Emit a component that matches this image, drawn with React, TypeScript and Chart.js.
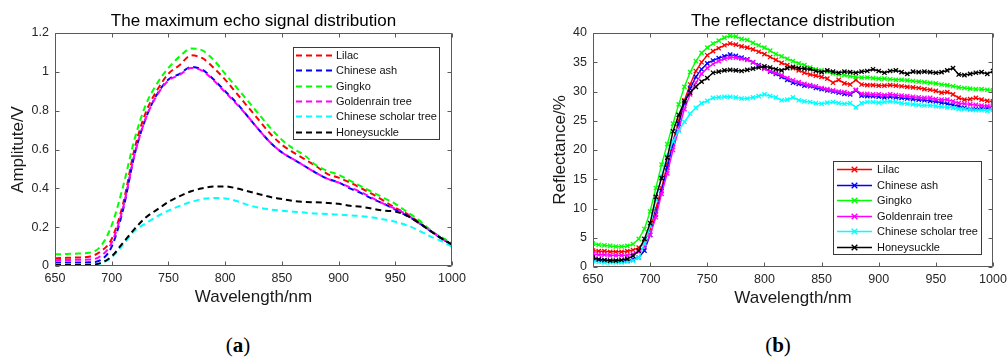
import React, { useEffect, useRef } from "react";
import { Chart, registerables } from "chart.js";

Chart.register(...registerables);

// ---------- Panel (a): maximum echo signal (10 nm steps) ----------
const WL_A = [650, 660, 670, 680, 690, 700, 710, 720, 730, 740, 750, 760, 770, 780, 790, 800, 810, 820, 830, 840, 850, 860, 870, 880, 890, 900, 910, 920, 930, 940, 950, 960, 970, 980, 990, 1000];
const LILAC_A = [0.040, 0.042, 0.044, 0.048, 0.074, 0.14, 0.32, 0.60, 0.79, 0.905, 0.99, 1.035, 1.085, 1.07, 1.02, 0.96, 0.89, 0.82, 0.75, 0.68, 0.625, 0.585, 0.55, 0.515, 0.475, 0.455, 0.43, 0.40, 0.37, 0.335, 0.30, 0.27, 0.23, 0.185, 0.145, 0.11];
const ASH_A = [0.018, 0.018, 0.018, 0.019, 0.03, 0.10, 0.29, 0.57, 0.76, 0.885, 0.96, 0.99, 1.025, 1.01, 0.96, 0.90, 0.84, 0.77, 0.70, 0.635, 0.585, 0.55, 0.515, 0.48, 0.45, 0.43, 0.40, 0.375, 0.345, 0.32, 0.29, 0.26, 0.225, 0.185, 0.145, 0.11];
const GINGKO_A = [0.060, 0.062, 0.064, 0.068, 0.10, 0.21, 0.41, 0.65, 0.83, 0.94, 1.02, 1.08, 1.12, 1.11, 1.06, 0.99, 0.92, 0.85, 0.78, 0.71, 0.65, 0.605, 0.57, 0.52, 0.49, 0.47, 0.44, 0.41, 0.38, 0.35, 0.32, 0.28, 0.24, 0.19, 0.15, 0.12];
const GOLDEN_A = [0.030, 0.031, 0.032, 0.033, 0.05, 0.12, 0.30, 0.57, 0.76, 0.88, 0.955, 0.985, 1.02, 1.005, 0.955, 0.895, 0.835, 0.77, 0.70, 0.635, 0.585, 0.55, 0.515, 0.48, 0.45, 0.43, 0.405, 0.38, 0.35, 0.32, 0.295, 0.265, 0.225, 0.185, 0.145, 0.11];
const SCHOLAR_A = [0.003, 0.003, 0.003, 0.004, 0.012, 0.045, 0.11, 0.18, 0.22, 0.255, 0.285, 0.31, 0.33, 0.345, 0.35, 0.348, 0.335, 0.315, 0.30, 0.29, 0.285, 0.28, 0.275, 0.27, 0.268, 0.265, 0.26, 0.257, 0.25, 0.24, 0.228, 0.21, 0.185, 0.155, 0.13, 0.10];
const HONEY_A = [0.005, 0.005, 0.005, 0.006, 0.015, 0.05, 0.12, 0.19, 0.25, 0.29, 0.33, 0.36, 0.385, 0.40, 0.41, 0.41, 0.40, 0.385, 0.37, 0.355, 0.345, 0.335, 0.33, 0.328, 0.325, 0.32, 0.31, 0.305, 0.295, 0.285, 0.28, 0.26, 0.225, 0.185, 0.145, 0.11];

// ---------- Panel (b): reflectance (5 nm steps) ----------
const WL_B = [650, 655, 660, 665, 670, 675, 680, 685, 690, 695, 700, 705, 710, 715, 720, 725, 730, 735, 740, 745, 750, 755, 760, 765, 770, 775, 780, 785, 790, 795, 800, 805, 810, 815, 820, 825, 830, 835, 840, 845, 850, 855, 860, 865, 870, 875, 880, 885, 890, 895, 900, 905, 910, 915, 920, 925, 930, 935, 940, 945, 950, 955, 960, 965, 970, 975, 980, 985, 990, 995, 1000];
const LILAC_B = [2.8, 2.7, 2.7, 2.6, 2.6, 2.6, 2.7, 2.9, 3.3, 4.3, 6.5, 10.0, 13.5, 17.5, 21.5, 25.0, 28.5, 31.2, 33.5, 35.0, 36.2, 36.9, 37.4, 37.9, 38.2, 38.0, 37.7, 37.5, 37.2, 36.8, 36.4, 35.9, 35.4, 34.9, 34.5, 34.0, 33.6, 33.2, 32.9, 32.7, 32.5, 32.2, 31.5, 32.0, 31.4, 31.2, 32.0, 31.2, 31.1, 31.1, 31.0, 31.0, 31.1, 31.0, 30.9, 30.8, 30.7, 30.6, 30.4, 30.3, 30.1, 29.8, 29.9, 29.5, 28.9, 28.6, 28.7, 28.9, 28.6, 28.4, 28.3];
const ASH_B = [1.3, 1.2, 1.1, 1.0, 1.0, 1.0, 1.1, 1.3, 1.6, 2.8, 5.5, 9.0, 13.0, 17.0, 21.0, 24.5, 28.0, 30.5, 32.5, 33.8, 34.8, 35.3, 35.7, 36.0, 36.3, 36.1, 35.8, 35.5, 35.0, 34.5, 34.0, 33.4, 33.0, 32.5, 32.0, 31.5, 31.3, 31.0, 30.9, 30.6, 30.4, 30.2, 30.0, 29.8, 29.6, 29.5, 30.2, 29.3, 29.2, 29.2, 29.1, 29.0, 29.1, 29.0, 28.9, 28.8, 28.7, 28.6, 28.5, 28.4, 28.3, 28.1, 27.9, 27.7, 27.5, 27.2, 27.0, 27.0, 27.1, 27.2, 27.2];
const GINGKO_B = [4.0, 3.8, 3.7, 3.6, 3.5, 3.5, 3.6, 3.9, 4.8, 6.5, 9.5, 13.5, 17.5, 21.0, 24.5, 27.8, 30.8, 33.3, 35.2, 36.6, 37.5, 38.2, 38.7, 39.2, 39.5, 39.4, 39.0, 38.8, 38.3, 37.9, 37.5, 37.0, 36.4, 36.0, 35.6, 35.2, 34.8, 34.5, 34.1, 33.8, 33.6, 33.4, 33.1, 32.9, 32.8, 32.6, 32.5, 32.4, 32.4, 32.3, 32.2, 32.2, 32.1, 32.0, 32.0, 31.9, 31.8, 31.7, 31.6, 31.5, 31.4, 31.2, 31.1, 30.9, 30.7, 30.6, 30.5, 30.4, 30.4, 30.3, 30.2];
const GOLDEN_B = [2.2, 2.1, 2.1, 2.0, 2.0, 2.0, 2.0, 2.2, 2.6, 3.5, 5.5, 8.5, 12.5, 16.0, 20.0, 23.5, 27.0, 29.5, 31.5, 33.0, 34.0, 34.7, 35.2, 35.6, 35.8, 35.8, 35.6, 35.4, 35.0, 34.4, 33.9, 33.5, 33.2, 32.8, 32.3, 31.9, 31.6, 31.3, 31.1, 30.9, 30.6, 30.4, 30.2, 30.0, 29.9, 29.7, 30.3, 29.6, 29.6, 29.5, 29.5, 29.4, 29.5, 29.4, 29.3, 29.2, 29.1, 29.0, 28.9, 28.9, 28.7, 28.6, 28.6, 28.3, 28.0, 27.9, 27.8, 27.7, 27.6, 27.5, 27.5];
const SCHOLAR_B = [1.0, 0.9, 0.8, 0.8, 0.8, 0.8, 0.9, 1.1, 1.6, 4.0, 7.0, 11.5, 15.5, 19.0, 21.5, 23.3, 24.8, 26.2, 27.2, 28.0, 28.4, 28.9, 29.0, 29.1, 29.1, 29.0, 28.8, 28.8, 29.0, 29.2, 29.5, 29.2, 29.0, 28.5, 28.6, 29.0, 28.5, 28.3, 28.2, 28.0, 27.9, 28.1, 28.2, 28.0, 27.9, 28.0, 27.3, 28.0, 28.2, 28.2, 28.1, 28.2, 28.3, 28.2, 28.0, 27.9, 27.8, 27.7, 27.6, 27.6, 27.5, 27.4, 27.3, 27.2, 27.0, 27.0, 26.9, 26.8, 26.8, 26.7, 26.9];
const HONEY_B = [1.6, 1.3, 1.2, 1.1, 1.1, 1.2, 1.4, 1.9, 2.8, 4.8, 7.5, 12.0, 15.2, 18.7, 23.2, 26.0, 28.3, 29.8, 30.8, 31.7, 32.3, 33.2, 33.4, 33.6, 33.7, 33.6, 33.5, 33.7, 33.9, 34.1, 34.3, 34.1, 33.8, 33.6, 34.0, 34.2, 34.0, 33.9, 33.8, 33.5, 33.3, 33.6, 33.4, 33.2, 33.4, 33.3, 33.2, 33.4, 33.5, 33.8, 33.5, 33.2, 33.5, 33.6, 33.3, 33.0, 33.4, 33.3, 33.4, 33.3, 33.2, 33.3, 33.6, 34.0, 32.9, 32.8, 33.0, 33.2, 33.3, 33.0, 33.5];

const SERIES_NAMES = ["Lilac", "Chinese ash", "Gingko", "Goldenrain tree", "Chinese scholar tree", "Honeysuckle"];
const SERIES_COLORS = ["#ff0000", "#0000ff", "#00ff00", "#ff00ff", "#00ffff", "#000000"];
const X_TICKS_MIN = 650;
const X_TICKS_MAX = 1000;
const TITLE_A = "The maximum echo signal distribution";
const TITLE_B = "The reflectance distribution";

const FONT = '"Liberation Sans", Arial, Helvetica, sans-serif';
const AXIS_COLOR = "#5a5a5a";
const TICK_TEXT = "#262626";

function titlePlugin(text: string) {
  return {
    id: "centeredTitle",
    afterDraw(chart: any) {
      const { ctx, chartArea } = chart;
      ctx.save();
      ctx.fillStyle = "#000";
      ctx.font = `17px ${FONT}`;
      ctx.textAlign = "center";
      ctx.textBaseline = "middle";
      ctx.fillText(text, (chartArea.left + chartArea.right) / 2, 21);
      ctx.restore();
    },
  };
}

function boxPlugin() {
  return {
    id: "matlabBox",
    afterDraw(chart: any) {
      const { ctx, chartArea, scales } = chart;
      const l = Math.round(chartArea.left) + 0.5;
      const r = Math.round(chartArea.right) - 0.5;
      const t = Math.round(chartArea.top) + 0.5;
      const b = Math.round(chartArea.bottom) - 0.5;
      ctx.save();
      ctx.strokeStyle = AXIS_COLOR;
      ctx.lineWidth = 1;
      ctx.beginPath();
      ctx.rect(l, t, r - l, b - t);
      const len = 4;
      scales.x.ticks.forEach((tk: any) => {
        const px = Math.round(scales.x.getPixelForValue(tk.value)) + 0.5;
        ctx.moveTo(px, b);
        ctx.lineTo(px, b - len);
        ctx.moveTo(px, t);
        ctx.lineTo(px, t + len);
      });
      scales.y.ticks.forEach((tk: any) => {
        const py = Math.round(scales.y.getPixelForValue(tk.value)) + 0.5;
        ctx.moveTo(l, py);
        ctx.lineTo(l + len, py);
        ctx.moveTo(r, py);
        ctx.lineTo(r - len, py);
      });
      ctx.stroke();
      ctx.restore();
    },
  };
}

type LegendCfg = {
  box: [number, number, number, number];
  firstRow: number;
  rowGap: number;
  lineX: [number, number];
  textX: number;
  dashed: boolean;
};

function legendPlugin(cfg: LegendCfg) {
  return {
    id: "matlabLegend",
    afterDraw(chart: any) {
      const { ctx } = chart;
      const [x0, y0, x1, y1] = cfg.box;
      ctx.save();
      ctx.fillStyle = "#ffffff";
      ctx.fillRect(x0, y0, x1 - x0, y1 - y0);
      ctx.strokeStyle = "#3a3a3a";
      ctx.lineWidth = 1;
      ctx.strokeRect(x0 + 0.5, y0 + 0.5, x1 - x0, y1 - y0);
      chart.data.datasets.forEach((ds: any, i: number) => {
        const y = Math.round(cfg.firstRow + i * cfg.rowGap) + 0.5;
        ctx.strokeStyle = ds.borderColor;
        ctx.lineWidth = cfg.dashed ? 2 : 1.5;
        ctx.setLineDash(cfg.dashed ? [6, 4] : []);
        ctx.beginPath();
        ctx.moveTo(cfg.lineX[0], y);
        ctx.lineTo(cfg.lineX[1], y);
        ctx.stroke();
        ctx.setLineDash([]);
        if (!cfg.dashed) {
          const cx = (cfg.lineX[0] + cfg.lineX[1]) / 2;
          const s = 2.8;
          ctx.lineWidth = 1.4;
          ctx.beginPath();
          ctx.moveTo(cx - s, y - s);
          ctx.lineTo(cx + s, y + s);
          ctx.moveTo(cx + s, y - s);
          ctx.lineTo(cx - s, y + s);
          ctx.stroke();
        }
        ctx.fillStyle = "#111";
        ctx.font = `11px ${FONT}`;
        ctx.textBaseline = "middle";
        ctx.textAlign = "left";
        ctx.fillText(ds.label, cfg.textX, y);
      });
      ctx.restore();
    },
  };
}

function makeScales(opts: {
  yMin: number;
  yMax: number;
  yStep: number;
  yTitle: string;
  yWidth: number;
  xHeight: number;
  xTitlePadBottom: number;
}) {
  return {
    x: {
      type: "linear",
      min: X_TICKS_MIN,
      max: X_TICKS_MAX,
      grid: { display: false, drawTicks: false },
      border: { display: false },
      ticks: {
        stepSize: 50,
        autoSkip: false,
        maxRotation: 0,
        padding: 5,
        color: TICK_TEXT,
        font: { size: 12.5, family: FONT },
        callback: (v: any) => String(v),
      },
      title: {
        display: true,
        text: "Wavelength/nm",
        color: "#1a1a1a",
        font: { size: 17, family: FONT },
        padding: { top: 0, bottom: opts.xTitlePadBottom },
      },
      afterFit(scale: any) {
        scale.height = opts.xHeight;
        scale.paddingLeft = 0;
        scale.paddingRight = 0;
      },
    },
    y: {
      type: "linear",
      min: opts.yMin,
      max: opts.yMax,
      grid: { display: false, drawTicks: false },
      border: { display: false },
      ticks: {
        stepSize: opts.yStep,
        autoSkip: false,
        padding: 6,
        color: TICK_TEXT,
        font: { size: 12.5, family: FONT },
        callback: (v: any) => String(+Number(v).toFixed(2)),
      },
      title: {
        display: true,
        text: opts.yTitle,
        color: "#1a1a1a",
        font: { size: 17, family: FONT },
        padding: { top: 8, bottom: 0 },
      },
      afterFit(scale: any) {
        scale.width = opts.yWidth;
        scale.paddingTop = 0;
        scale.paddingBottom = 0;
      },
    },
  };
}

function buildDatasets(xs: number[], series: number[][], dashed: boolean) {
  return series.map((vals, i) => ({
    label: SERIES_NAMES[i],
    data: xs.map((x, j) => ({ x, y: vals[j] })),
    borderColor: SERIES_COLORS[i],
    backgroundColor: SERIES_COLORS[i],
    borderWidth: dashed ? 2 : 1.4,
    borderDash: dashed ? [6, 4] : [],
    pointStyle: "crossRot",
    pointRadius: dashed ? 0 : 3,
    pointBorderWidth: 1.3,
    pointBorderColor: SERIES_COLORS[i],
    pointBackgroundColor: SERIES_COLORS[i],
    cubicInterpolationMode: dashed ? "monotone" : "default",
    tension: 0,
    fill: false,
    order: series.length - i,
  }));
}

function ChartPanel(props: { which: "a" | "b" }) {
  const ref = useRef<HTMLCanvasElement | null>(null);
  useEffect(() => {
    if (!ref.current) return;
    const isA = props.which === "a";
    const datasets = isA
      ? buildDatasets(WL_A, [LILAC_A, ASH_A, GINGKO_A, GOLDEN_A, SCHOLAR_A, HONEY_A], true)
      : buildDatasets(WL_B, [LILAC_B, ASH_B, GINGKO_B, GOLDEN_B, SCHOLAR_B, HONEY_B], false);
    const scales = isA
      ? makeScales({ yMin: 0, yMax: 1.2, yStep: 0.2, yTitle: "Amplitute/V", yWidth: 55, xHeight: 54, xTitlePadBottom: 12 })
      : makeScales({ yMin: 0, yMax: 40, yStep: 5, yTitle: "Reflectance/%", yWidth: 51, xHeight: 53, xTitlePadBottom: 11 });
    const legend = isA
      ? legendPlugin({ box: [293, 47, 439, 139], firstRow: 55, rowGap: 15.33, lineX: [296, 332], textX: 336, dashed: true })
      : legendPlugin({ box: [333, 161, 481, 254], firstRow: 169.3, rowGap: 15.45, lineX: [337, 372], textX: 377, dashed: false });
    const chart = new Chart(ref.current, {
      type: "line",
      data: { datasets } as any,
      options: {
        responsive: false,
        animation: false,
        devicePixelRatio: 1,
        layout: { padding: isA ? { left: 0, right: 48, top: 33, bottom: 0 } : { left: 42, right: 14, top: 33, bottom: 0 } },
        plugins: {
          legend: { display: false },
          tooltip: { enabled: false },
          title: { display: false },
        },
        scales: scales as any,
      },
      plugins: [boxPlugin(), legend, titlePlugin(isA ? TITLE_A : TITLE_B)],
    } as any);
    return () => chart.destroy();
  }, [props.which]);
  const isA = props.which === "a";
  return (
    <canvas
      ref={ref}
      width={isA ? 500 : 507}
      height={320}
      style={{ position: "absolute", left: isA ? 0 : 500, top: 0, width: isA ? 500 : 507, height: 320 }}
    />
  );
}

const captionStyle: React.CSSProperties = {
  position: "absolute",
  top: 332,
  width: 60,
  textAlign: "center",
  fontFamily: '"Liberation Serif", "DejaVu Serif", serif',
  fontSize: 21,
  lineHeight: "26px",
  color: "#000",
};

export default function App() {
  return (
    <div style={{ position: "absolute", left: 0, top: 0, width: 1007, height: 362, background: "#fff", overflow: "hidden" }}>
      <ChartPanel which="a" />
      <ChartPanel which="b" />
      <div style={{ ...captionStyle, left: 238 - 30 }}>
        (<b>a</b>)
      </div>
      <div style={{ ...captionStyle, left: 778 - 30 }}>
        (<b>b</b>)
      </div>
    </div>
  );
}
